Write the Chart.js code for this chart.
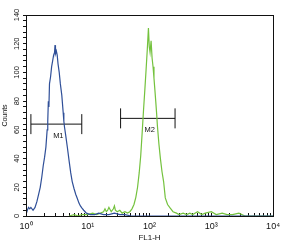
<!DOCTYPE html>
<html>
<head>
<meta charset="utf-8">
<script src="https://cdn.jsdelivr.net/npm/chart.js@4"></script>
<style>
  html, body { margin: 0; padding: 0; background: #fff; }
</style>
</head>
<body>
<canvas id="chart" width="288" height="250"></canvas>
<script>
// FL1-H channel values and counts
const blueX = [1, 1.05, 1.1, 1.15, 1.2, 1.3, 1.4, 1.5, 1.6, 1.7, 1.8, 1.9, 2.0, 2.1, 2.2, 2.25, 2.3, 2.35, 2.4, 2.5, 2.6, 2.7, 2.8, 2.9, 2.95, 3.0, 3.1, 3.2, 3.3, 3.45, 3.6, 3.8, 4.0, 4.1, 4.2, 4.4, 4.7, 5.0, 5.3, 5.6, 6.0, 6.4, 6.8, 7.2, 7.6, 8.0, 8.6, 9.5, 11, 13, 15, 18, 22, 27, 33, 40, 50, 70, 100, 1000, 10000];
const blueY = [1, 4, 6, 5, 6, 4, 6, 10, 15, 20, 27, 35, 41, 48, 60, 66, 80, 76, 92, 97, 104, 108, 112, 114, 119, 113, 115, 112, 106, 100, 92, 84, 72, 66, 62, 56, 47, 38, 30, 24, 19, 15, 12, 9, 7, 5.6, 4, 2, 1, 1, 2, 1, 1, 2, 1, 1, 0, 0, 0, 0, 0];

const greenX = [5, 6, 7, 8, 10, 12, 14, 16, 18, 19, 20, 21, 22, 24, 26, 27, 28, 30, 33, 36, 40, 44, 48, 52, 56, 60, 64, 68, 72, 76, 80, 84, 88, 92, 96, 99, 102, 106, 110, 114, 118, 122, 126, 130, 134, 142, 150, 159, 169, 180, 196, 215, 240, 273, 300, 350, 400, 450, 500, 600, 700, 800, 1000, 1200, 1500, 1800, 2200, 2800, 3500, 5000, 10000];
const greenY = [0, 1, 0, 1, 1, 2, 1, 2, 3, 5, 3, 4, 6, 3, 5, 7, 4, 3, 4, 2, 3, 2, 3, 5, 8, 13, 20, 30, 42, 58, 74, 88, 102, 116, 131, 118, 114, 122, 110, 104, 96, 88, 80, 72, 63, 50, 40, 31, 24, 12.6, 8, 5.6, 3, 2, 1, 2, 1, 2, 1, 3, 1, 2, 3, 1, 2, 1, 1, 2, 0, 0, 0];

// gate markers
const markerNames = ['M1', 'M2'];
const markerFrom = [1.2, 34];
const markerTo = [8, 259];
const markerLevel = [64, 68];

const xMajor = [1, 10, 100, 1000, 10000];
const xMajorLabels = ['10\u2070', '10\u00b9', '10\u00b2', '10\u00b3', '10\u2074'];

const FONT = 'Liberation Sans, Arial, sans-serif';
const INK = '#111';

function points(xs, ys) {
  return xs.map((x, i) => ({ x: x, y: ys[i] }));
}

const markerSets = markerNames.map((name, i) => ({
  label: name,
  data: [{ x: markerFrom[i], y: markerLevel[i] }, { x: markerTo[i], y: markerLevel[i] }],
  borderColor: INK,
  borderWidth: 1,
  pointStyle: 'line',
  pointRotation: 90,
  pointRadius: 10,
  pointBorderWidth: 1,
  pointBorderColor: INK,
}));

// box round the plot + marker names
const framePlugin = {
  id: 'frame',
  afterDatasetsDraw(chart) {
    const { ctx, chartArea: a, scales } = chart;
    ctx.save();
    ctx.strokeStyle = INK;
    ctx.lineWidth = 1;
    ctx.strokeRect(Math.round(a.left) + 0.5, Math.round(a.top) + 0.5, Math.round(a.right - a.left), Math.round(a.bottom - a.top));
    ctx.fillStyle = INK;
    ctx.font = '7.5px ' + FONT;
    ctx.textAlign = 'center';
    ctx.textBaseline = 'middle';
    markerNames.forEach((name, i) => {
      const x0 = scales.x.getPixelForValue(markerFrom[i]);
      const x1 = scales.x.getPixelForValue(markerTo[i]);
      const y = scales.y.getPixelForValue(markerLevel[i]);
      ctx.fillText(name, (x0 + x1) / 2 + 2, y + 12);
    });
    ctx.restore();
  }
};

new Chart(document.getElementById('chart').getContext('2d'), {
  type: 'line',
  data: {
    datasets: [
      {
        label: 'blue',
        data: points(blueX, blueY),
        borderColor: '#2f4f98',
        borderWidth: 1.2,
        pointRadius: 0,
        tension: 0,
      },
      {
        label: 'green',
        data: points(greenX, greenY),
        borderColor: '#74c23e',
        borderWidth: 1.2,
        pointRadius: 0,
        tension: 0,
      },
      ...markerSets,
    ],
  },
  options: {
    responsive: false,
    animation: false,
    devicePixelRatio: 1,
    layout: { padding: { top: 15, right: 8, left: 0, bottom: 0 } },
    plugins: { legend: { display: false }, tooltip: { enabled: false } },
    scales: {
      x: {
        type: 'logarithmic',
        min: 1,
        max: 10000,
        afterBuildTicks(scale) {
          const t = [];
          for (let p = 1; p < 10000; p *= 10) {
            for (let m = 1; m < 10; m++) t.push({ value: m * p });
          }
          t.push({ value: 10000 });
          scale.ticks = t;
        },
        afterFit(scale) { scale.height = 34; },
        grid: { display: true, drawOnChartArea: false, tickLength: -3, color: INK },
        border: { display: true, color: INK, width: 1 },
        ticks: {
          autoSkip: false,
          maxRotation: 0,
          minRotation: 0,
          padding: 8,
          color: INK,
          font: { family: FONT, size: 9 },
          callback(v) {
            const i = xMajor.indexOf(v);
            return i >= 0 ? xMajorLabels[i] : '';
          },
        },
        title: {
          display: true,
          text: 'FL1-H',
          color: INK,
          font: { family: FONT, size: 8 },
          padding: { top: 0, bottom: 7 },
        },
      },
      y: {
        min: 0,
        max: 140,
        afterFit(scale) { scale.width = 26; },
        grid: { display: true, drawOnChartArea: false, tickLength: 3, color: INK },
        border: { display: true, color: INK, width: 1 },
        ticks: {
          stepSize: 4,
          autoSkip: false,
          minRotation: 90,
          maxRotation: 90,
          crossAlign: 'center',
          padding: 0,
          color: INK,
          font: { family: FONT, size: 7.5 },
          callback(v) { return v % 20 === 0 ? String(v) : ''; },
        },
        title: {
          display: true,
          text: 'Counts',
          color: INK,
          font: { family: FONT, size: 7 },
          padding: { top: 1, bottom: 0 },
        },
      },
    },
  },
  plugins: [framePlugin],
});
</script>
</body>
</html>
